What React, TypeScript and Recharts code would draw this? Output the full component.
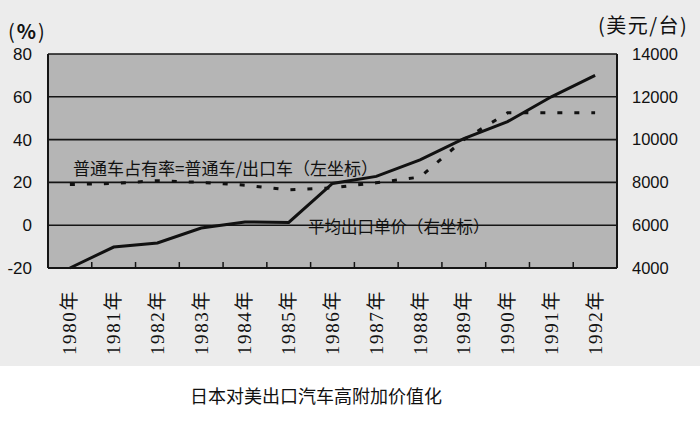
import React from 'react';
import { ComposedChart, Line, XAxis, YAxis, CartesianGrid } from 'recharts';

const years = ['1980年', '1981年', '1982年', '1983年', '1984年', '1985年', '1986年', '1987年', '1988年', '1989年', '1990年', '1991年', '1992年'];
// 普通车占有率 (%) — left axis
const shareRate = [19, 19.5, 20.8, 20, 18.7, 16.5, 17.5, 19.8, 22.5, 40, 52.5, 52.5, 52.5];
// 平均出口单价 (美元/台) — right axis
const unitPrice = [4000, 4980, 5170, 5870, 6150, 6130, 7950, 8280, 9050, 10050, 10840, 12000, 13000];
const leftTicks = [-20, 0, 20, 40, 60, 80];
const rightTicks = [4000, 6000, 8000, 10000, 12000, 14000];

const data = years.map((y, i) => ({ year: y, share: shareRate[i], price: unitPrice[i] }));

const LEFT_AXIS_W = 48;
const RIGHT_AXIS_W = 83;
const LABEL_GAP = 22;
const TICK_LEN = 6;

const YearTick = (props: any) => {
  const { x, y, payload, index } = props;
  const i = Number(index) || 0;
  // half of the band, derived from the tick position the axis gives
  const half = (Number(x) - LEFT_AXIS_W) / (2 * i + 1);
  const isLast = i === years.length - 1;
  return (
    <g>
      {!isLast && half > 0 && (
        <line
          x1={x + half}
          x2={x + half}
          y1={y - LABEL_GAP}
          y2={y - LABEL_GAP - TICK_LEN}
          stroke="#151515"
          strokeWidth={1.5}
        />
      )}
      <g transform={`translate(${x},${y})`}>
        <text
          transform="rotate(-90)"
          textAnchor="end"
          dominantBaseline="central"
          fontSize={19}
          letterSpacing={1.6}
          fill="#111"
          fontFamily="'Liberation Serif', 'Noto Sans CJK SC', serif"
        >
          {payload.value}
        </text>
      </g>
    </g>
  );
};

const abs = (left: number, top: number, extra: React.CSSProperties = {}): React.CSSProperties => ({
  position: 'absolute',
  left,
  top,
  whiteSpace: 'nowrap',
  color: '#111',
  fontFamily: "'Noto Sans CJK SC', sans-serif",
  pointerEvents: 'none',
  ...extra,
});

export default function App() {
  return (
    <div style={{ position: 'absolute', left: 0, top: 0, width: 700, height: 425, background: '#fff', overflow: 'hidden' }}>
      <div style={{ position: 'absolute', left: 0, top: 0, width: 700, height: 366, background: '#ececec' }} />
      <div style={{ position: 'absolute', left: 0, top: 0 }}>
        <ComposedChart width={700} height={425} data={data} margin={{ top: 54, right: 0, bottom: 0, left: 0 }}>
          <CartesianGrid
            xAxisId="cat"
            yAxisId="l"
            vertical={false}
            fill="#b5b5b5"
            fillOpacity={1}
            stroke="#151515"
            strokeWidth={1.6}
          />
          <XAxis
            xAxisId="cat"
            dataKey="year"
            scale="band"
            interval={0}
            height={157}
            tickLine={false}
            tickSize={0}
            tickMargin={LABEL_GAP}
            axisLine={{ stroke: '#151515', strokeWidth: 2 }}
            tick={<YearTick />}
          />
          <YAxis
            yAxisId="l"
            domain={[-20, 80]}
            ticks={leftTicks}
            width={LEFT_AXIS_W}
            tickLine={false}
            tickSize={0}
            tickMargin={16}
            axisLine={{ stroke: '#151515', strokeWidth: 2 }}
            tick={{ fontSize: 17, fill: '#111', fontFamily: "'Liberation Sans', Arial, sans-serif" }}
          />
          <YAxis
            yAxisId="r"
            orientation="right"
            domain={[4000, 14000]}
            ticks={rightTicks}
            width={RIGHT_AXIS_W}
            tickLine={false}
            tickSize={0}
            tickMargin={15}
            axisLine={{ stroke: '#151515', strokeWidth: 2 }}
            tick={{ fontSize: 16.5, fill: '#111', textAnchor: 'start', fontFamily: "'Liberation Sans', Arial, sans-serif" }}
          />
          <Line
            xAxisId="cat"
            yAxisId="l"
            dataKey="share"
            type="linear"
            stroke="#111"
            strokeWidth={3}
            strokeDasharray="5 12"
            dot={false}
            isAnimationActive={false}
          />
          <Line
            xAxisId="cat"
            yAxisId="r"
            dataKey="price"
            type="linear"
            stroke="#111"
            strokeWidth={3}
            dot={false}
            isAnimationActive={false}
          />
        </ComposedChart>
      </div>
      <div style={abs(8, 19, { fontSize: 20, lineHeight: '24px', letterSpacing: 2 })}>
        (<b>%</b>)
      </div>
      <div style={abs(598, 13, { fontSize: 20, lineHeight: '24px', letterSpacing: 1.5 })}>(美元/台)</div>
      <div style={abs(73, 158, { fontSize: 17, lineHeight: '20px' })}>普通车占有率=普通车/出口车（左坐标）</div>
      <div style={abs(308, 216, { fontSize: 16.5, lineHeight: '20px' })}>平均出口单价（右坐标）</div>
      <div style={abs(190, 384, { fontSize: 18, lineHeight: '22px' })}>日本对美出口汽车高附加价值化</div>
    </div>
  );
}
